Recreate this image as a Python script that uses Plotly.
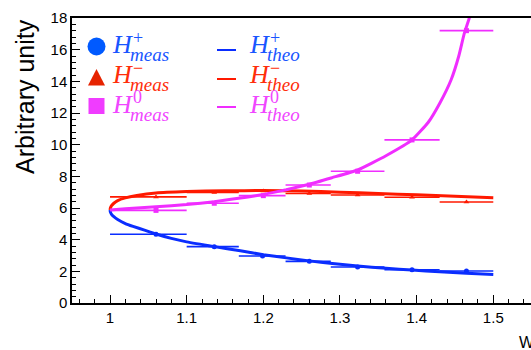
import plotly.graph_objects as go

# ---------------- data ----------------
bin_edges = [1.0, 1.1, 1.168, 1.229, 1.288, 1.358, 1.43, 1.5]

hp_x = [1.06, 1.136, 1.199, 1.26, 1.323, 1.394, 1.465]
hp_y = [4.34, 3.56, 2.97, 2.63, 2.27, 2.10, 2.02]

hm_x = [1.06, 1.136, 1.2, 1.26, 1.323, 1.394, 1.465]
hm_y = [6.70, 6.98, 7.07, 6.92, 6.82, 6.68, 6.38]

h0_x = [1.06, 1.136, 1.2, 1.26, 1.323, 1.394, 1.465]
h0_y = [5.85, 6.30, 6.78, 7.45, 8.32, 10.3, 17.2]

theo_p_x = [1.0, 1.0005, 1.002, 1.005, 1.01, 1.02, 1.03, 1.045, 1.06, 1.08, 1.1, 1.136, 1.17,
            1.2, 1.23, 1.26, 1.29, 1.323, 1.36, 1.394, 1.43, 1.465, 1.5]
theo_p_y = [5.87, 5.74, 5.6, 5.45, 5.27, 5.02, 4.84, 4.6, 4.36, 4.08, 3.86, 3.56, 3.3,
            3.05, 2.85, 2.66, 2.5, 2.34, 2.19, 2.08, 1.97, 1.88, 1.8]

theo_m_x = [1.0, 1.0005, 1.002, 1.005, 1.01, 1.02, 1.035, 1.06, 1.1, 1.15, 1.2, 1.25, 1.3,
            1.35, 1.4, 1.45, 1.5]
theo_m_y = [5.87, 6.0, 6.15, 6.3, 6.47, 6.64, 6.79, 6.95, 7.04, 7.09, 7.1, 7.07, 7.0,
            6.92, 6.83, 6.74, 6.65]

theo_0_x = [1.0, 1.02, 1.06, 1.1, 1.136, 1.18, 1.2, 1.23, 1.26, 1.29, 1.323,
            1.36, 1.394, 1.415, 1.43, 1.445, 1.455, 1.462, 1.4687, 1.471]
theo_0_y = [5.87, 5.95, 6.08, 6.22, 6.4, 6.7, 6.86, 7.15, 7.5, 7.92, 8.4,
            9.3, 10.3, 11.4, 12.6, 14.1, 15.6, 17.0, 18.0, 18.5]

y_ticks = [0, 2, 4, 6, 8, 10, 12, 14, 16, 18]
x_ticks = [1.0, 1.1, 1.2, 1.3, 1.4, 1.5]
x_tick_labels = ["1", "1.1", "1.2", "1.3", "1.4", "1.5"]

# ---------------- style ----------------
BLUE = "rgb(10,45,255)"
RED = "rgb(255,25,0)"
MAG = "rgb(240,45,255)"
BLUE_T = "rgb(25,85,255)"
RED_T = "rgb(255,45,10)"
MAG_T = "rgb(240,70,255)"

W, H = 531, 350
L, T, B = 72, 18, 303
PW, PH = W - L, B - T


def px(x):
    return (x - L) / PW


def py(y):
    return (B - y) / PH


def errs(xs):
    lo, hi = [], []
    for i, x in enumerate(xs):
        lo.append(x - bin_edges[i])
        hi.append(bin_edges[i + 1] - x)
    return lo, hi


fig = go.Figure()

for xs, ys, col, sym in [(hp_x, hp_y, BLUE, "circle"),
                         (hm_x, hm_y, RED, "triangle-up"),
                         (h0_x, h0_y, MAG, "square")]:
    lo, hi = errs(xs)
    fig.add_trace(go.Scatter(
        x=xs, y=ys, mode="markers",
        marker=dict(symbol=sym, size=5, color=col),
        error_x=dict(type="data", array=hi, arrayminus=lo, symmetric=False,
                     color=col, thickness=1.6, width=0),
        showlegend=False, cliponaxis=True))

for xs, ys, col in [(theo_p_x, theo_p_y, BLUE),
                    (theo_m_x, theo_m_y, RED),
                    (theo_0_x, theo_0_y, MAG)]:
    fig.add_trace(go.Scatter(
        x=xs, y=ys, mode="lines",
        line=dict(color=col, width=3, shape="spline", smoothing=0.4),
        showlegend=False))

# ---------------- manual legend ----------------
shapes = []
annotations = []

shapes.append(dict(type="circle", xref="paper", yref="paper",
                   x0=px(87.5), x1=px(105.5), y0=py(55.5), y1=py(37.5),
                   fillcolor="rgb(0,90,255)", line=dict(width=0)))
shapes.append(dict(type="path", xref="paper", yref="paper",
                   path=f"M {px(88)} {py(85.5)} L {px(105)} {py(85.5)} L {px(96.5)} {py(69)} Z",
                   fillcolor="rgb(230,35,0)", line=dict(width=0)))
shapes.append(dict(type="rect", xref="paper", yref="paper",
                   x0=px(88.5), x1=px(104.5), y0=py(114), y1=py(98),
                   fillcolor="rgb(240,60,255)", line=dict(width=0)))
for yy, col in [(50, BLUE), (79, RED), (107, MAG)]:
    shapes.append(dict(type="line", xref="paper", yref="paper",
                       x0=px(217), x1=px(236), y0=py(yy), y1=py(yy),
                       line=dict(color=col, width=2)))

SERIF = "Liberation Serif"
rows = [("+", BLUE_T, 0), ("\u2212", RED_T, 30), ("0", MAG_T, 59)]
for sup, col, dy in rows:
    for x0, subtxt in [(110, "meas"), (247, "theo")]:
        annotations.append(dict(xref="paper", yref="paper", x=px(x0), y=py(45 + dy),
                                xanchor="left", yanchor="middle", showarrow=False,
                                text="<i>H</i>", font=dict(family=SERIF, size=26, color=col)))
        annotations.append(dict(xref="paper", yref="paper", x=px(x0 + 21), y=py(38 + dy),
                                xanchor="left", yanchor="middle", showarrow=False,
                                text=sup, font=dict(family=SERIF, size=18, color=col)))
        annotations.append(dict(xref="paper", yref="paper", x=px(x0 + 18), y=py(55 + dy),
                                xanchor="left", yanchor="middle", showarrow=False,
                                text=f"<i>{subtxt}</i>", font=dict(family=SERIF, size=19, color=col)))

annotations.append(dict(xref="paper", yref="paper", x=px(25), y=py(97),
                        xanchor="center", yanchor="middle", showarrow=False,
                        textangle=-90, text="Arbitrary unity",
                        font=dict(family="Liberation Sans", size=25, color="black")))
annotations.append(dict(xref="paper", yref="paper", x=px(517), y=py(342),
                        xanchor="left", yanchor="middle", showarrow=False,
                        text="W", font=dict(family="Liberation Sans", size=16, color="black")))

fig.update_layout(
    width=W, height=H,
    margin=dict(l=L, r=0, t=T, b=H - B),
    paper_bgcolor="white", plot_bgcolor="white",
    shapes=shapes, annotations=annotations,
    font=dict(family="Liberation Sans", color="black"),
)
fig.update_xaxes(
    range=[0.9504, 1.5492], showgrid=False, zeroline=False,
    showline=True, linecolor="black", linewidth=1.5, mirror=True,
    tickmode="array", tickvals=x_ticks, ticktext=x_tick_labels,
    ticks="inside", ticklen=8, tickwidth=1, tickcolor="black",
    minor=dict(dtick=0.02, tick0=1.0, ticks="inside", ticklen=4, tickwidth=1, tickcolor="black", showgrid=False),
    tickfont=dict(size=15, family="Liberation Sans", color="black"),
)
fig.update_yaxes(
    range=[0, 18], showgrid=False, zeroline=False,
    showline=True, linecolor="black", linewidth=1.5, mirror=False,
    tickmode="array", tickvals=y_ticks,
    ticks="inside", ticklen=8, tickwidth=1, tickcolor="black",
    minor=dict(dtick=0.4, tick0=0, ticks="inside", ticklen=4, tickwidth=1, tickcolor="black", showgrid=False),
    tickfont=dict(size=15, family="Liberation Sans", color="black"),
)

fig.write_html("out.html", config={"displayModeBar": False},
               post_script="document.body.style.margin='0';document.body.style.overflow='hidden';")
